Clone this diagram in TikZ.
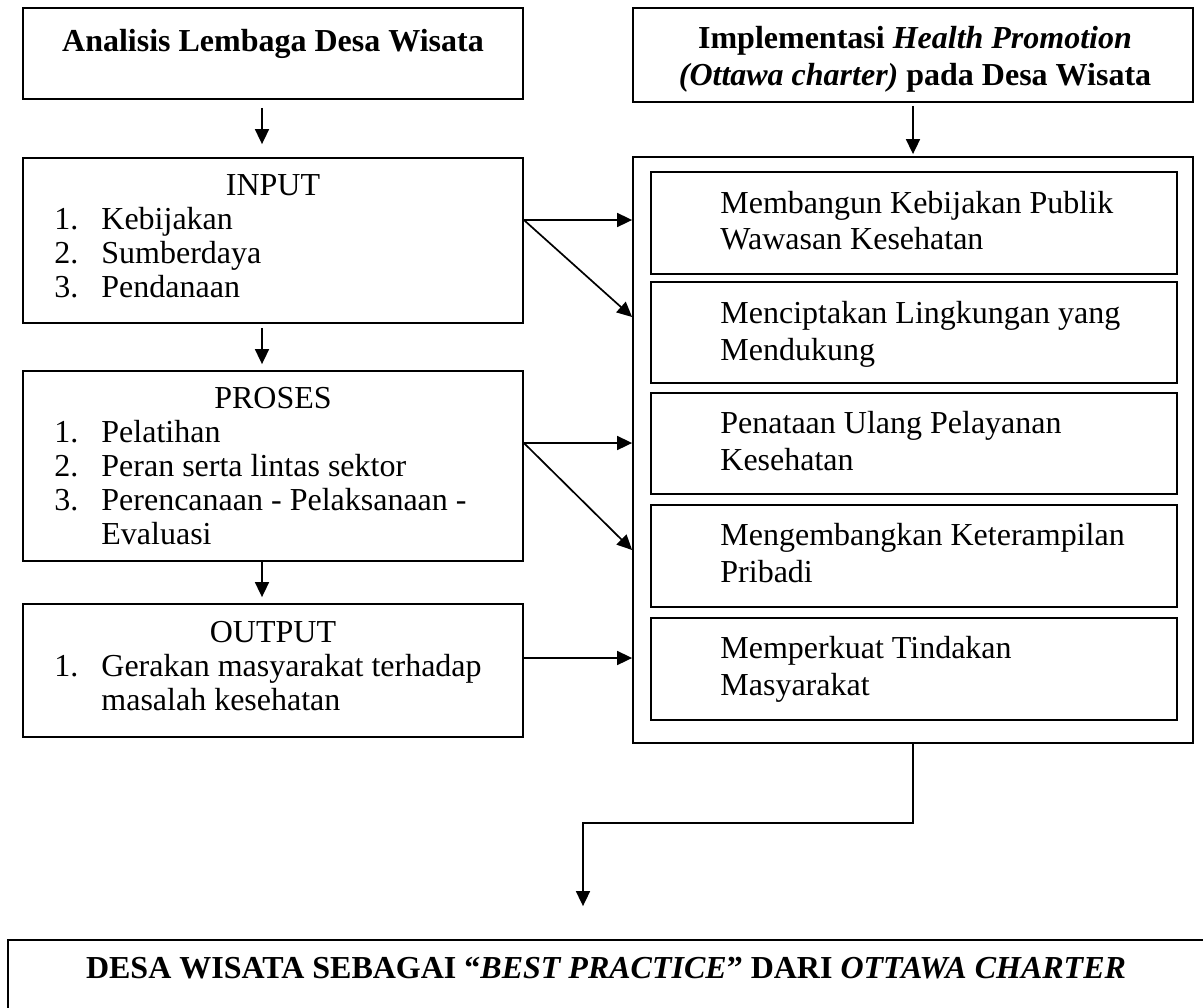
\documentclass[tikz,border=0pt]{standalone}
\usepackage{fontspec}
\setmainfont{Liberation Serif}
\usetikzlibrary{arrows.meta}
\begin{document}
\begin{tikzpicture}[x=0.5pt,y=-0.5pt,
  box/.style={draw, line width=0.9pt, rectangle, inner sep=0pt},
  txt/.style={font=\fontsize{16pt}{18.4pt}\selectfont, inner sep=0pt, anchor=base west},
  ctxt/.style={font=\fontsize{16pt}{18.4pt}\selectfont, inner sep=0pt, anchor=base},
  btxt/.style={font=\fontsize{16pt}{18.4pt}\selectfont\bfseries, inner sep=0pt, anchor=base},
  arr/.style={line width=0.85pt, -{Triangle[length=7.5pt,width=7pt]}},
  ln/.style={line width=0.85pt}
]
\useasboundingbox (0,0) rectangle (1203,1007);

% ---------- left column boxes ----------
\node[box, minimum width=250pt, minimum height=45.5pt] (ana) at (273,53.5) {};
\node[box, minimum width=250pt, minimum height=82.5pt] (inp) at (273,240.5) {};
\node[box, minimum width=250pt, minimum height=95pt]   (pro) at (273,466) {};
\node[box, minimum width=250pt, minimum height=66.5pt] (outp) at (273,670.5) {};

% ---------- right column boxes ----------
\node[box, minimum width=280pt, minimum height=47pt]  (imp) at (913,55) {};
\node[box, minimum width=280pt, minimum height=293pt] (outer) at (913,450) {};
\node[box, minimum width=263pt, minimum height=51pt]   (i1) at (914,223) {};
\node[box, minimum width=263pt, minimum height=50.5pt] (i2) at (914,332.5) {};
\node[box, minimum width=263pt, minimum height=50.5pt] (i3) at (914,443.5) {};
\node[box, minimum width=263pt, minimum height=51pt]   (i4) at (914,556) {};
\node[box, minimum width=263pt, minimum height=51pt]   (i5) at (914,669) {};

% ---------- bottom box ----------
\node[box, minimum width=598.5pt, minimum height=45pt] (fin) at (606.5,985) {};

% ---------- texts ----------
\node[btxt] (tana) at (273,51) {Analisis Lembaga Desa Wisata};

\node[ctxt] (tinp) at (273,195) {INPUT};
\node[txt] (n11) at (54,229) {1.};
\node[txt] (t11) at (101,229) {Kebijakan};
\node[txt] (n12) at (54,263) {2.};
\node[txt] (t12) at (101,263) {Sumberdaya};
\node[txt] (n13) at (54,297) {3.};
\node[txt] (t13) at (101,297) {Pendanaan};

\node[ctxt] (tpro) at (273,408) {PROSES};
\node[txt] (n21) at (54,442) {1.};
\node[txt] (t21) at (101,442) {Pelatihan};
\node[txt] (n22) at (54,476) {2.};
\node[txt] (t22) at (101,476) {Peran serta lintas sektor};
\node[txt] (n23) at (54,510) {3.};
\node[txt] (t23) at (101,510) {Perencanaan - Pelaksanaan -};
\node[txt] (t24) at (101,544) {Evaluasi};

\node[ctxt] (tout) at (273,642) {OUTPUT};
\node[txt] (n31) at (54,676) {1.};
\node[txt] (t31) at (101,676) {Gerakan masyarakat terhadap};
\node[txt] (t32) at (101,710) {masalah kesehatan};

\node[btxt] (timp1) at (915,48) {Implementasi \textit{Health Promotion}};
\node[btxt] (timp2) at (915,85) {\textit{(Ottawa charter)} pada Desa Wisata};

\node[txt] (ti1a) at (720,213) {Membangun Kebijakan Publik};
\node[txt] (ti1b) at (720,249) {Wawasan Kesehatan};
\node[txt] (ti2a) at (720,323) {Menciptakan Lingkungan yang};
\node[txt] (ti2b) at (720,360) {Mendukung};
\node[txt] (ti3a) at (720,433) {Penataan Ulang Pelayanan};
\node[txt] (ti3b) at (720,470) {Kesehatan};
\node[txt] (ti4a) at (720,545) {Mengembangkan Keterampilan};
\node[txt] (ti4b) at (720,582) {Pribadi};
\node[txt] (ti5a) at (720,658) {Memperkuat Tindakan};
\node[txt] (ti5b) at (720,695) {Masyarakat};

\node[btxt] (tfin) at (606,978) {DESA WISATA SEBAGAI “\textit{BEST PRACTICE}” DARI \textit{OTTAWA CHARTER}};

% ---------- connectors ----------
\draw[arr, shorten <=4pt, shorten >=6.5pt] ([xshift=-5.5pt]ana.south) -- ([xshift=-5.5pt]inp.north);
\draw[arr, shorten <=2pt, shorten >=3pt] ([xshift=-5.5pt]inp.south) -- ([xshift=-5.5pt]pro.north);
\draw[arr, shorten >=3pt] ([xshift=-5.5pt]pro.south) -- ([xshift=-5.5pt]outp.north);
\draw[arr, shorten <=1.5pt, shorten >=1pt] (imp.south) -- (outer.north);

\coordinate (inpO) at ([yshift=10.25pt]inp.east);
\draw[arr] (inpO) -- (inpO -| outer.west);
\draw[arr] (inpO) -- ([yshift=66.5pt]outer.west);

\coordinate (proO) at ([yshift=11.5pt]pro.east);
\draw[arr] (proO) -- (proO -| outer.west);
\draw[arr] (proO) -- ([yshift=-50pt]outer.west);

\coordinate (outO) at ([yshift=6.25pt]outp.east);
\draw[arr] (outO) -- (outO -| outer.west);

\coordinate (elbow) at (583,823);
\draw[arr, shorten >=16.5pt] (outer.south) |- (elbow) -- (elbow |- fin.north);
\end{tikzpicture}
\end{document}
